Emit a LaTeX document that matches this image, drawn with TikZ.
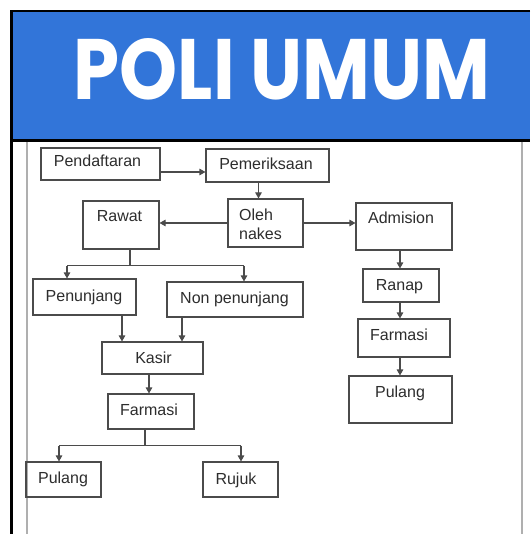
\documentclass[tikz,border=0pt]{standalone}
\usepackage{fontspec}
\setmainfont{Liberation Sans}
\newfontfamily\titlefont{Poppins}
\usetikzlibrary{arrows.meta,fit,calc}
\definecolor{hdrblue}{RGB}{50,117,217}
\definecolor{boxline}{RGB}{75,75,75}
\definecolor{framegray}{RGB}{175,175,175}
\definecolor{txtgray}{RGB}{45,45,45}
\begin{document}
\begin{tikzpicture}[x=1pt,y=-1pt,
  box/.style={draw=boxline, line width=1.1pt, inner sep=0pt, rectangle},
  txt/.style={font=\fontsize{16}{19}\selectfont, text=txtgray, anchor=base, inner sep=0pt},
  arr/.style={draw=boxline, line width=1.1pt, -{Triangle[length=6pt,width=6.5pt]}},
  ln/.style={draw=boxline, line width=1.1pt}]
\useasboundingbox (0,0) rectangle (530,534);
\fill[white] (0,0) rectangle (530,534);
% header
\fill[hdrblue] (11,11) rectangle (530,139);
\draw[black, line width=2.5pt] (530,11.25) -- (11.25,11.25) -- (11.25,534);
\draw[black, line width=3pt] (11,140.5) -- (530,140.5);
\draw[framegray, line width=1.5pt] (27,142) -- (27,534);
\draw[framegray, line width=1.5pt] (522,142) -- (522,534);
\node[font=\titlefont\bfseries, text=white, anchor=base, inner sep=0pt] (title) at (282,100) {\resizebox{416pt}{61pt}{POLI UMUM}};
% boxes
\node[box, fit={(41,148) (160,180)}] (pend) {};
\node[box, fit={(206,149) (329,182)}] (pem) {};
\node[box, fit={(83,201) (159,249)}] (rawat) {};
\node[box, fit={(228,199) (303,247)}] (oleh) {};
\node[box, fit={(356,203) (452,250)}] (adm) {};
\node[box, fit={(33,279) (136,315)}] (pen) {};
\node[box, fit={(167,282) (303,317)}] (non) {};
\node[box, fit={(102,342) (203,374)}] (kasir) {};
\node[box, fit={(108,394) (194,429)}] (far1) {};
\node[box, fit={(26,462) (101,497)}] (pul1) {};
\node[box, fit={(203,462) (278,497)}] (ruj) {};
\node[box, fit={(363,269) (439,302)}] (ranap) {};
\node[box, fit={(358,319) (450,357)}] (far2) {};
\node[box, fit={(349,376) (452,423)}] (pul2) {};
% texts
\node[txt] (tpend) at (97.5,167) {Pendaftaran};
\node[txt] (tpem) at (266,170) {Pemeriksaan};
\node[txt] (trawat) at (119.5,222) {Rawat};
\node[txt, anchor=base west] (toleh1) at (239,221) {Oleh};
\node[txt, anchor=base west] (toleh2) at (239,239) {nakes};
\node[txt] (tadm) at (401,223) {Admision};
\node[txt] (tpen) at (84,301) {Penunjang};
\node[txt] (tnon) at (234.5,303) {Non penunjang};
\node[txt] (tkasir) at (153.5,363) {Kasir};
\node[txt] (tfar1) at (149,415) {Farmasi};
\node[txt] (tpul1) at (63,483) {Pulang};
\node[txt] (truj) at (236,484) {Rujuk};
\node[txt] (tranap) at (399.5,290) {Ranap};
\node[txt] (tfar2) at (399,340) {Farmasi};
\node[txt] (tpul2) at (400,397) {Pulang};
% connectors
\coordinate (c1) at ([yshift=-8pt]pend.east);
\draw[arr] (c1) -- (c1 -| pem.west);
\coordinate (c2) at ([xshift=-9pt]pem.south);
\draw[arr] (c2) -- (c2 |- oleh.north);
\draw[arr] (oleh.west) -- (oleh.west -| rawat.east);
\draw[arr] (oleh.east) -- (oleh.east -| adm.west);
% Rawat branch
\coordinate (c3) at ([xshift=9pt]rawat.south);
\coordinate (j1) at ($(c3)+(0,16)$);
\coordinate (a1) at ([xshift=-17.5pt]pen.north);
\coordinate (a2) at ([xshift=9pt]non.north);
\draw[ln] (c3) -- (j1);
\draw[ln] (a1 |- j1) -- (a2 |- j1);
\draw[arr] (a1 |- j1) -- (a1);
\draw[arr] (a2 |- j1) -- (a2);
% to Kasir
\coordinate (a3) at ([xshift=37.5pt]pen.south);
\draw[arr] (a3) -- (a3 |- kasir.north);
\coordinate (a4) at ([xshift=-53pt]non.south);
\draw[arr] (a4) -- (a4 |- kasir.north);
\coordinate (a5) at ([xshift=-3.5pt]kasir.south);
\draw[arr] (a5) -- (a5 |- far1.north);
% Farmasi branch
\coordinate (c4) at ([xshift=-6pt]far1.south);
\coordinate (j2) at ($(c4)+(0,16)$);
\coordinate (a6) at ([xshift=-4.5pt]pul1.north);
\coordinate (a7) at ([xshift=0.5pt]ruj.north);
\draw[ln] (c4) -- (j2);
\draw[ln] (a6 |- j2) -- (a7 |- j2);
\draw[arr] (a6 |- j2) -- (a6);
\draw[arr] (a7 |- j2) -- (a7);
% right column
\coordinate (a8) at ([xshift=-4pt]adm.south);
\draw[arr] (a8) -- (a8 |- ranap.north);
\coordinate (a9) at ([xshift=-1pt]ranap.south);
\draw[arr] (a9) -- (a9 |- far2.north);
\coordinate (a10) at ([xshift=-4pt]far2.south);
\draw[arr] (a10) -- (a10 |- pul2.north);
\end{tikzpicture}
\end{document}
